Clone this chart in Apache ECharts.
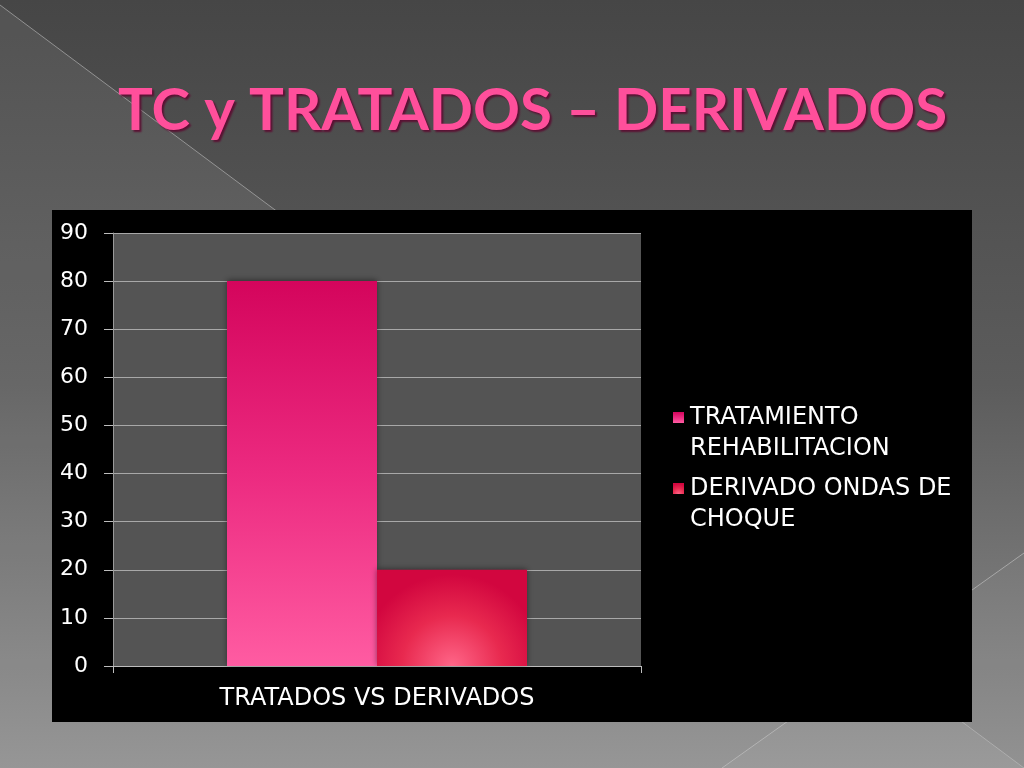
<!DOCTYPE html>
<html>
<head>
<meta charset="utf-8">
<script src="https://cdn.jsdelivr.net/npm/echarts@6/dist/echarts.min.js"></script>
<style>
html,body{margin:0;padding:0;background:#555;}
#chart{width:1024px;height:768px;}
</style>
</head>
<body>
<div id="chart"></div>
<script>
const titleText = 'TC y TRATADOS – DERIVADOS';
const categories = ['TRATADOS VS DERIVADOS'];
const seriesNames = ['TRATAMIENTO REHABILITACION', 'DERIVADO ONDAS DE CHOQUE'];
const legendLabels = ['\nTRATAMIENTO\nREHABILITACION', '\nDERIVADO ONDAS DE\nCHOQUE'];
const tratamientoValues = [80];
const derivadoValues = [20];
const yTicks = [0, 10, 20, 30, 40, 50, 60, 70, 80, 90];

const FONT = 'DejaVu Sans';
const WEIGHT = 'normal';
const chart = echarts.init(document.getElementById('chart'));

const legendText = {
  color: '#ffffff', fontFamily: FONT, fontWeight: WEIGHT, fontSize: 24, lineHeight: 31,
  padding: [0, 0, 0, 1]
};

chart.setOption({
  backgroundColor: 'transparent',
  animation: false,
  graphic: [
    { type: 'rect', z: -100, silent: true, shape: { x: 0, y: 0, width: 1024, height: 768 },
      style: { fill: new echarts.graphic.LinearGradient(0, 0, 0, 1, [
        { offset: 0, color: '#464646' }, { offset: 0.5, color: '#5c5c5c' }, { offset: 1, color: '#8e8e8e' }]) } },
    { type: 'polygon', z: -99, silent: true, shape: { points: [[0, 5], [1024, 768], [0, 768]] },
      style: { fill: 'rgba(255,255,255,0.07)' } },
    { type: 'polygon', z: -99, silent: true, shape: { points: [[1024, 553], [722, 768], [1024, 768]] },
      style: { fill: 'rgba(255,255,255,0.04)' } },
    { type: 'line', z: -98, silent: true, shape: { x1: 0, y1: 5, x2: 1024, y2: 768 },
      style: { stroke: 'rgba(190,190,190,0.6)', lineWidth: 1 } },
    { type: 'line', z: -98, silent: true, shape: { x1: 1024, y1: 553, x2: 722, y2: 768 },
      style: { stroke: 'rgba(200,200,200,0.6)', lineWidth: 1 } },
    { type: 'rect', z: -90, silent: true, shape: { x: 52, y: 210, width: 920, height: 512 },
      style: { fill: '#000000' } }
  ],
  title: {
    text: titleText,
    left: 113,
    top: 77,
    textStyle: {
      color: '#ff4f9b', fontFamily: 'Lato', fontWeight: 'bold', fontSize: 58.2,
      textShadowColor: '#5a0f32', textShadowOffsetX: 2, textShadowOffsetY: 2, textShadowBlur: 2
    }
  },
  legend: [
    { data: [seriesNames[0]], left: 668, top: 366, orient: 'vertical', icon: 'rect',
      itemWidth: 11, itemHeight: 11, formatter: () => legendLabels[0], textStyle: legendText },
    { data: [seriesNames[1]], left: 668, top: 437, orient: 'vertical', icon: 'rect',
      itemWidth: 11, itemHeight: 11, formatter: () => legendLabels[1], textStyle: legendText }
  ],
  grid: {
    left: 113, right: 383, top: 233, bottom: 102,
    show: true, backgroundColor: '#545454', borderWidth: 0
  },
  xAxis: {
    type: 'category',
    data: categories,
    axisLine: { lineStyle: { color: '#bdbdbd', width: 1 } },
    axisTick: { show: true, length: 7, lineStyle: { color: '#bdbdbd' } },
    axisLabel: { color: '#ffffff', fontFamily: FONT, fontWeight: WEIGHT, fontSize: 24, margin: 21 }
  },
  yAxis: {
    type: 'value',
    min: yTicks[0], max: yTicks[yTicks.length - 1], interval: 10,
    axisLine: { show: true, lineStyle: { color: '#9a9a9a', width: 1 } },
    axisTick: { show: true, length: 9, lineStyle: { color: '#bdbdbd' } },
    axisLabel: { color: '#ffffff', fontFamily: FONT, fontWeight: WEIGHT, fontSize: 22, margin: 25 },
    splitLine: { lineStyle: { color: '#a8a8a8', width: 1 } }
  },
  series: [
    {
      name: seriesNames[0], type: 'bar', data: tratamientoValues,
      barWidth: 150, barGap: '0%',
      itemStyle: {
        color: new echarts.graphic.LinearGradient(0, 0, 0, 1, [
          { offset: 0, color: '#d4055c' }, { offset: 0.5, color: '#ec2a80' }, { offset: 1, color: '#ff5ca2' }]),
        shadowColor: 'rgba(0,0,0,0.45)', shadowBlur: 6, shadowOffsetY: -1
      }
    },
    {
      name: seriesNames[1], type: 'bar', data: derivadoValues,
      barWidth: 150,
      itemStyle: {
        color: new echarts.graphic.RadialGradient(0.5, 1.0, 0.95, [
          { offset: 0, color: '#ff6688' }, { offset: 0.55, color: '#e8294f' }, { offset: 1, color: '#d2063f' }]),
        shadowColor: 'rgba(0,0,0,0.45)', shadowBlur: 6, shadowOffsetY: -1
      }
    }
  ]
});
</script>
</body>
</html>
